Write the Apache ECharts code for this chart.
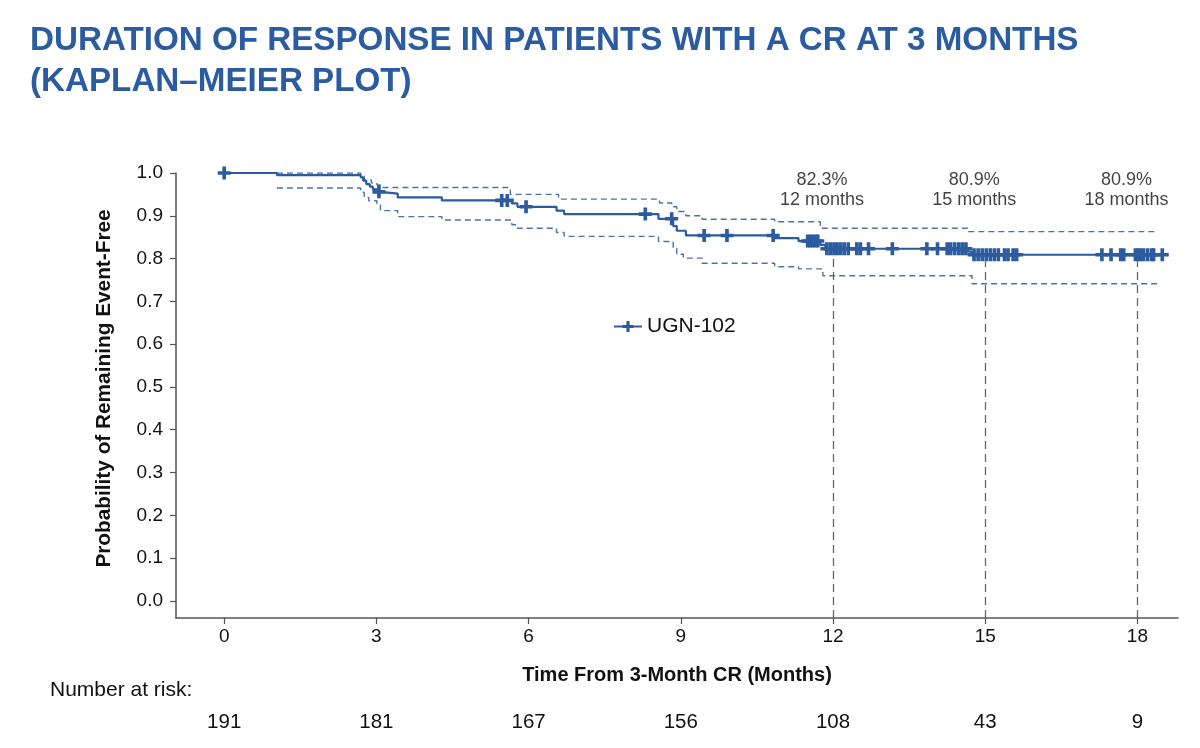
<!DOCTYPE html>
<html>
<head>
<meta charset="utf-8">
<script src="https://cdn.jsdelivr.net/npm/echarts@6/dist/echarts.min.js"></script>
<style>
html,body{margin:0;padding:0;background:#fff;}
#chart{width:1200px;height:748px;}
</style>
</head>
<body>
<div id="chart"></div>
<script>
const titleLines = ['DURATION OF RESPONSE IN PATIENTS WITH A CR AT 3 MONTHS', '(KAPLAN–MEIER PLOT)'];
const seriesName = 'UGN-102';
const xAxisName = 'Time From 3-Month CR (Months)';
const yAxisName = 'Probability of Remaining Event-Free';
const riskTitle = 'Number at risk:';
const xTicks = [0, 3, 6, 9, 12, 15, 18];
const yTicks = [0, 0.1, 0.2, 0.3, 0.4, 0.5, 0.6, 0.7, 0.8, 0.9, 1.0];
const atRisk = [191, 181, 167, 156, 108, 43, 9];

// Kaplan-Meier step curve: [time, survival from this time on]
const kmCurve = [
  [0, 1.0], [1.04, 0.995], [2.69, 0.990], [2.74, 0.982], [2.80, 0.974], [2.87, 0.968],
  [2.93, 0.962], [3.01, 0.956], [3.08, 0.952], [3.42, 0.943], [4.29, 0.936],
  [5.67, 0.929], [5.78, 0.921], [6.55, 0.912], [6.70, 0.904], [8.56, 0.893],
  [8.85, 0.876], [8.92, 0.865], [9.10, 0.854], [10.85, 0.848], [11.32, 0.841],
  [11.75, 0.832], [11.85, 0.823], [14.67, 0.816], [14.74, 0.809], [18.5, 0.809]
];
// 95% confidence bounds
const ciUpper = [
  [1.04, 1.0], [2.69, 0.993], [2.76, 0.984], [2.90, 0.977], [3.01, 0.972], [3.08, 0.966],
  [5.64, 0.950], [6.59, 0.939], [8.58, 0.930], [8.82, 0.921], [8.92, 0.910],
  [9.10, 0.900], [9.42, 0.892], [10.85, 0.886], [11.75, 0.871], [14.67, 0.863], [18.39, 0.863]
];
const ciLower = [
  [1.04, 0.965], [2.69, 0.955], [2.76, 0.943], [2.85, 0.935], [3.01, 0.928], [3.08, 0.912],
  [3.42, 0.898], [4.29, 0.890], [5.67, 0.879], [5.78, 0.871], [6.55, 0.861], [6.70, 0.852],
  [8.56, 0.840], [8.85, 0.824], [8.92, 0.810], [9.05, 0.801], [9.42, 0.789], [10.85, 0.781],
  [11.32, 0.776], [11.80, 0.760], [14.74, 0.741], [18.45, 0.741]
];
// censoring times
const censorTimes = [
  0, 3.05, 5.47, 5.58, 5.95, 8.30, 8.82, 9.46, 9.91, 10.82,
  11.50, 11.55, 11.60, 11.65, 11.70, 11.88, 11.95, 12.02, 12.08, 12.15, 12.22, 12.30,
  12.47, 12.54, 12.70, 13.17, 13.85, 14.06, 14.25, 14.32, 14.40, 14.48, 14.55, 14.62,
  14.78, 14.86, 14.94, 15.02, 15.10, 15.18, 15.26, 15.38, 15.45, 15.55, 15.62,
  17.30, 17.48, 17.67, 17.73, 17.96, 18.01, 18.06, 18.12, 18.20, 18.28, 18.32, 18.49
];
const milestoneMonths = [12, 15, 18];
const milestonePct = ['82.3%', '80.9%', '80.9%'];

const X_MIN = -0.95, X_MAX = 18.8, Y_MIN = -0.04, Y_MAX = 1.0;
const BLUE = '#2C5B9F';
const FONT = "'Liberation Sans', Arial, Helvetica, sans-serif";

function survAt(t) {
  let v = kmCurve[0][1];
  for (const p of kmCurve) { if (p[0] <= t) v = p[1]; else break; }
  return v;
}
const crossPath = 'path://M3.6,0H6.4V3.6H10V6.4H6.4V10H3.6V6.4H0V3.6H3.6Z';

const chart = echarts.init(document.getElementById('chart'), null, {renderer: 'canvas'});
const option = {
  animation: false,
  backgroundColor: '#fff',
  textStyle: {fontFamily: FONT},
  title: {
    text: titleLines.join('\n'),
    left: 25, top: 15,
    textStyle: {color: '#2B5BA0', fontSize: 33.2, fontWeight: 'bold', lineHeight: 41, fontFamily: FONT}
  },
  legend: {
    data: [seriesName],
    left: 608, top: 311,
    itemWidth: 28, itemHeight: 14, itemGap: 10,
    textStyle: {fontSize: 21, color: '#111', fontFamily: FONT}
  },
  graphic: [{
    type: 'text', left: 50, top: 680,
    style: {text: riskTitle, fontSize: 21, fill: '#111', fontFamily: FONT}
  }],
  grid: {left: 176, right: 22, top: 173, bottom: 130, containLabel: false},
  xAxis: [{
    type: 'value', min: X_MIN, max: X_MAX,
    axisLine: {show: true, onZero: false, lineStyle: {color: '#555', width: 1.5}},
    axisTick: {show: true, customValues: xTicks, length: 6, lineStyle: {color: '#555', width: 1.2}},
    axisLabel: {customValues: xTicks, fontSize: 19, color: '#111', margin: 9, fontFamily: FONT},
    splitLine: {show: false},
    name: xAxisName, nameLocation: 'middle', nameGap: 47,
    nameTextStyle: {fontWeight: 'bold', fontSize: 20, color: '#111', fontFamily: FONT}
  }, {
    type: 'value', min: X_MIN, max: X_MAX, position: 'bottom',
    axisLine: {show: false, onZero: false}, axisTick: {show: false},
    axisLabel: {customValues: xTicks, fontSize: 20.5, color: '#111', margin: 94, fontFamily: FONT,
      formatter: v => String(atRisk[xTicks.indexOf(v)])},
    splitLine: {show: false}
  }],
  yAxis: {
    type: 'value', min: Y_MIN, max: Y_MAX,
    axisLine: {show: true, onZero: false, lineStyle: {color: '#555', width: 1.5}},
    axisTick: {show: true, customValues: yTicks, length: 6, lineStyle: {color: '#555', width: 1.2}},
    axisLabel: {customValues: yTicks, fontSize: 19, color: '#111', margin: 13, fontFamily: FONT,
      formatter: v => v.toFixed(1)},
    splitLine: {show: false},
    name: yAxisName, nameLocation: 'middle', nameGap: 61, nameRotate: 90,
    nameTextStyle: {fontWeight: 'bold', fontSize: 20.8, color: '#111', fontFamily: FONT, padding: [0, 0, 0, 14]}
  },
  series: [
    {
      type: 'line', name: 'upper', step: 'end', data: ciUpper, symbol: 'none',
      lineStyle: {color: '#4C72AC', width: 1.4, type: [6, 4]}, z: 2, silent: true
    },
    {
      type: 'line', name: 'lower', step: 'end', data: ciLower, symbol: 'none',
      lineStyle: {color: '#4C72AC', width: 1.4, type: [6, 4]}, z: 2, silent: true
    },
    {
      type: 'line', name: seriesName, step: 'end', data: kmCurve,
      symbol: crossPath, symbolSize: 14, showSymbol: false,
      itemStyle: {color: BLUE},
      lineStyle: {color: BLUE, width: 2.2}, z: 4,
      markLine: {
        silent: true, symbol: 'none',
        label: {show: false},
        lineStyle: {color: '#666', width: 1.3, type: [8, 5]},
        data: milestoneMonths.map(m => [{coord: [m, Y_MIN]}, {coord: [m, survAt(m) - 0.015]}])
      }
    },
    {
      type: 'scatter', name: 'censor',
      data: censorTimes.map(t => [t, survAt(t)]),
      symbol: crossPath, symbolSize: 13,
      itemStyle: {color: BLUE, opacity: 1}, z: 5, silent: true
    },
    {
      type: 'scatter', name: 'milestones',
      data: milestoneMonths.map(m => [m, 0.96]),
      symbolSize: 0, silent: true,
      label: {
        show: true, position: 'inside', offset: [-11, 0],
        formatter: p => milestonePct[p.dataIndex] + '\n' + milestoneMonths[p.dataIndex] + ' months',
        fontSize: 18, lineHeight: 20, color: '#111', align: 'center', fontFamily: FONT
      }
    }
  ]
};
chart.setOption(option);
</script>
</body>
</html>
